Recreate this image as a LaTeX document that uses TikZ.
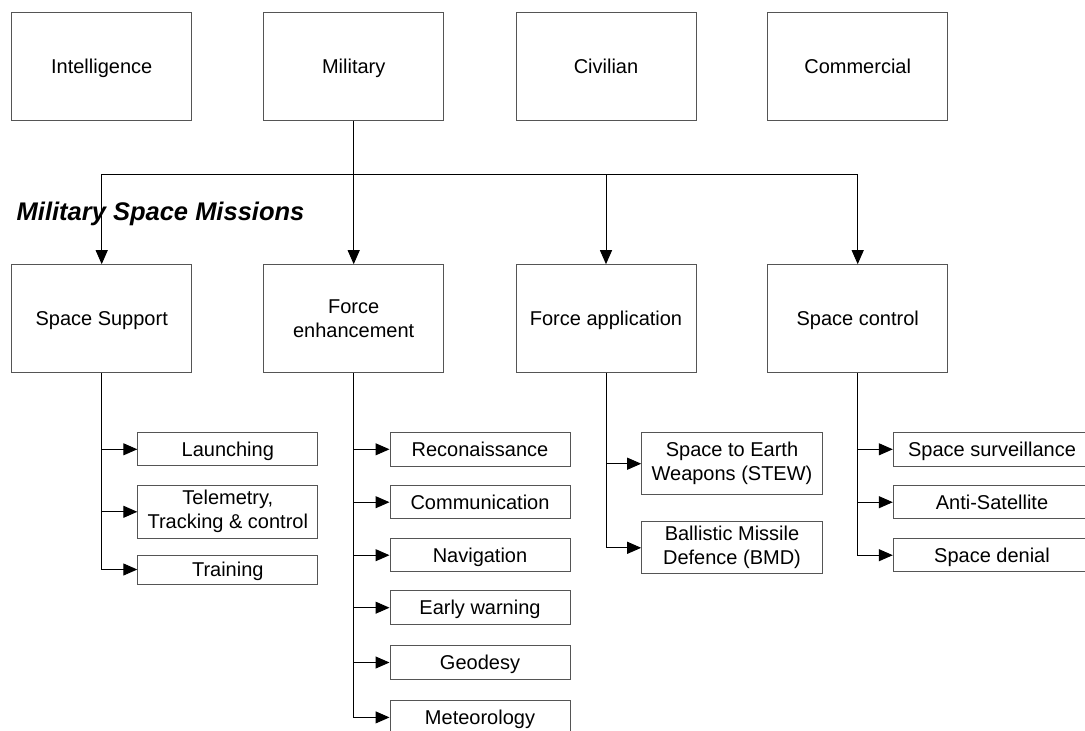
\documentclass[tikz,border=0pt]{standalone}
\usepackage{fontspec}
\setmainfont{Liberation Sans}
\usetikzlibrary{arrows.meta}
\definecolor{boxline}{RGB}{85,85,85}
\begin{document}
\begin{tikzpicture}[x=1pt,y=-1pt,
  boxbase/.style={draw=boxline, line width=1pt, inner sep=0pt, align=center, font=\fontsize{20}{24}\selectfont},
  bigbox/.style={boxbase, minimum width=180pt, minimum height=108pt, text height=14.5pt, text depth=0.2pt},
  bigboxtwo/.style={boxbase, minimum width=180pt, minimum height=108pt},
  subbox/.style={boxbase, minimum width=180pt, text height=14.5pt, text depth=0.2pt},
  subboxtwo/.style={boxbase, minimum width=180pt},
  conn/.style={draw=black, line width=1pt, -{Triangle[length=14pt,width=12pt]}},
  plainline/.style={draw=black, line width=1pt},
  titletext/.style={anchor=base west, inner sep=0pt, font=\fontsize{25.5}{29}\selectfont\bfseries\itshape}
]
\useasboundingbox (0,0) rectangle (1085,731);

% top row
\node[bigbox] (intel) at (101.7,66.3) {Intelligence};
\node[bigbox] (mil)   at (353.7,66.3) {Military};
\node[bigbox] (civ)   at (606,66.3)   {Civilian};
\node[bigbox] (com)   at (857.7,66.3) {Commercial};

% title
\node[titletext] (title) at (16.5,220.7) {Military Space Missions};

% second row
\node[bigbox]    (ss) at (101.7,318.7) {Space Support};
\node[bigboxtwo] (fe) at (353.7,318.7) {Force\\enhancement};
\node[bigbox]    (fa) at (606,318.7)   {Force application};
\node[bigbox]    (sc) at (857.7,318.7) {Space control};

% bus
\coordinate (bus) at (353.7,174);
\draw[plainline] (mil.south) -- (bus);
\draw[conn] (bus) -| (ss.north);
\draw[conn] (bus) -- (fe.north);
\draw[conn] (bus) -| (fa.north);
\draw[conn] (bus) -| (sc.north);

% Space Support children
\node[subbox, minimum height=33.3pt]  (launch) at (227.8,449.3) {Launching};
\node[subboxtwo, minimum height=53pt] (ttc)    at (227.8,511.8) {Telemetry,\\Tracking \& control};
\node[subbox, minimum height=29pt]    (train)  at (227.8,569.5) {Training};

% Force enhancement children
\node[subbox, minimum height=33.5pt] (recon) at (480,449.3) {Reconaissance};
\node[subbox, minimum height=33.5pt] (comm)  at (480,502.2) {Communication};
\node[subbox, minimum height=33.5pt] (nav)   at (480,555.2) {Navigation};
\node[subbox, minimum height=33.5pt] (early) at (480,607.7) {Early warning};
\node[subbox, minimum height=33.5pt] (geo)   at (480,662.5) {Geodesy};
\node[subbox, minimum height=33.5pt] (meteo) at (480,717.4) {Meteorology};

% Force application children
\node[subboxtwo, minimum width=180.6pt, minimum height=62pt]   (stew) at (732,463.7) {Space to Earth\\Weapons (STEW)};
\node[subboxtwo, minimum width=180.6pt, minimum height=52.3pt] (bmd)  at (732,547.8) {Ballistic Missile\\Defence (BMD)};

% Space control children
\node[subbox, minimum width=197.4pt, minimum height=33.5pt] (surv)   at (992,449.3) {Space surveillance};
\node[subbox, minimum width=197.4pt, minimum height=33.5pt] (asat)   at (992,502.2) {Anti-Satellite};
\node[subbox, minimum width=197.4pt, minimum height=33.5pt] (denial) at (992,555.2) {Space denial};

% connectors
\draw[conn] (ss.south) |- (launch.west);
\draw[conn] (ss.south) |- (ttc.west);
\draw[conn] (ss.south) |- (train.west);

\draw[conn] (fe.south) |- (recon.west);
\draw[conn] (fe.south) |- (comm.west);
\draw[conn] (fe.south) |- (nav.west);
\draw[conn] (fe.south) |- (early.west);
\draw[conn] (fe.south) |- (geo.west);
\draw[conn] (fe.south) |- (meteo.west);

\draw[conn] (fa.south) |- (stew.west);
\draw[conn] (fa.south) |- (bmd.west);

\draw[conn] (sc.south) |- (surv.west);
\draw[conn] (sc.south) |- (asat.west);
\draw[conn] (sc.south) |- (denial.west);
\end{tikzpicture}
\end{document}
